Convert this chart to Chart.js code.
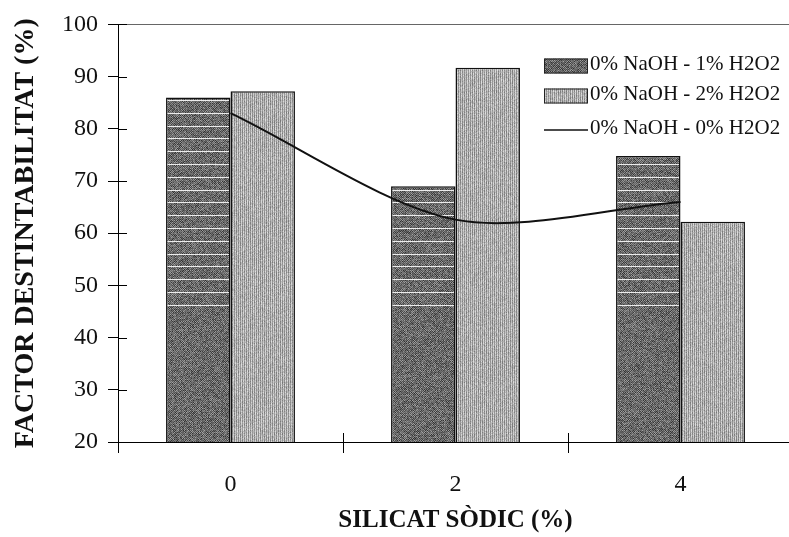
<!DOCTYPE html>
<html>
<head>
<meta charset="utf-8">
<script src="https://cdn.jsdelivr.net/npm/chart.js@4.4.1/dist/chart.umd.min.js"></script>
<style>
  html, body { margin: 0; padding: 0; background: #fff; overflow: hidden; }
  canvas { display: block; }
</style>
</head>
<body>
<canvas id="chart" width="800" height="537" style="width:800px;height:537px"></canvas>
<script>
// Silicat sòdic dose (%) on the x axis
const categories = ['0', '2', '4'];
const seriesNames = ['0% NaOH - 1% H2O2', '0% NaOH - 2% H2O2', '0% NaOH - 0% H2O2'];
// Factor de destintabilitat (%) per treatment
const peroxide1 = [86.0, 69.0, 74.8];
const peroxide2 = [87.2, 91.7, 62.2];
const peroxide0 = [83.0, 62.6, 66.0];
const yTickValues = [20, 30, 40, 50, 60, 70, 80, 90, 100];

const W = 800, H = 537;
const SERIF = '"Liberation Serif", "Times New Roman", serif';

// small deterministic hash for the print-like grain of the fills
function grain(x, y) {
  let h = (Math.imul(x, 374761393) + Math.imul(y, 668265263)) | 0;
  h = Math.imul(h ^ (h >>> 13), 1274126177);
  return ((h ^ (h >>> 16)) >>> 0) / 4294967295;
}

function makeTexture(painter) {
  const c = document.createElement('canvas');
  c.width = W; c.height = H;
  const g = c.getContext('2d');
  const img = g.createImageData(W, H);
  for (let y = 0; y < H; y++) {
    for (let x = 0; x < W; x++) {
      const v = Math.max(0, Math.min(255, painter(x, y)));
      const i = (y * W + x) * 4;
      img.data[i] = img.data[i + 1] = img.data[i + 2] = v;
      img.data[i + 3] = 255;
    }
  }
  g.putImageData(img, 0, 0);
  return g.createPattern(c, 'no-repeat');
}

// dark speckled fill with white bands in its upper part
const bandRows = new Set();
for (let k = 0; k <= 16; k++) bandRows.add(Math.round(100 + 12.8 * k));
const darkFill = makeTexture((x, y) => {
  if (bandRows.has(y)) return 236;
  const base = ((x + y) & 1) ? 80 : 130;
  return base + (grain(x, y) - 0.5) * 70;
});
// light fill with fine vertical hatching
const lightFill = makeTexture((x, y) => {
  const base = (x & 1) ? 202 : 142;
  return base + (grain(x, y) - 0.5) * 44;
});

// tick marks that cross the axis lines
const crossTicks = {
  id: 'crossTicks',
  afterDraw(chart) {
    const { ctx, scales: { x, y } } = chart;
    ctx.save();
    ctx.strokeStyle = '#000';
    ctx.lineWidth = 1;
    ctx.beginPath();
    y.ticks.forEach(t => {
      const py = Math.round(y.getPixelForValue(t.value)) + 0.5;
      ctx.moveTo(y.right, py);
      ctx.lineTo(y.right + 9, py);
    });
    const n = x.getLabels().length;
    for (let i = 1; i < n; i++) {
      const px = Math.round(x.left + i * x.width / n) + 0.5;
      ctx.moveTo(px, x.top);
      ctx.lineTo(px, x.top - 9);
    }
    ctx.stroke();
    ctx.restore();
  }
};

// legend in the upper right corner of the plot
const cornerLegend = {
  id: 'cornerLegend',
  afterDraw(chart) {
    const ctx = chart.ctx;
    const sets = chart.data.datasets;
    const rowY = [64, 94, 128];
    const boxX = 544, boxW = 44, boxH = 15, textX = 590;
    ctx.save();
    sets.forEach((ds, i) => {
      const cy = rowY[i];
      if (ds.type === 'line') {
        ctx.strokeStyle = ds.borderColor;
        ctx.lineWidth = 1.5;
        ctx.beginPath();
        ctx.moveTo(boxX, cy + 2);
        ctx.lineTo(boxX + boxW, cy + 2);
        ctx.stroke();
      } else {
        ctx.fillStyle = ds.backgroundColor;
        ctx.fillRect(boxX, cy - boxH / 2 + 2, boxW, boxH);
        ctx.strokeStyle = '#222';
        ctx.lineWidth = 1;
        ctx.strokeRect(boxX + 0.5, cy - boxH / 2 + 2.5, boxW - 1, boxH - 1);
      }
      ctx.fillStyle = '#111';
      ctx.font = '21px ' + SERIF;
      ctx.textBaseline = 'middle';
      ctx.textAlign = 'left';
      ctx.fillText(ds.label, textX, cy);
    });
    ctx.restore();
  }
};

new Chart(document.getElementById('chart'), {
  type: 'bar',
  data: {
    labels: categories,
    datasets: [
      {
        label: seriesNames[0],
        data: peroxide1,
        backgroundColor: darkFill,
        borderColor: '#111',
        borderWidth: 1.5,
        categoryPercentage: 0.573,
        barPercentage: 1.0,
        order: 1
      },
      {
        label: seriesNames[1],
        data: peroxide2,
        backgroundColor: lightFill,
        borderColor: '#111',
        borderWidth: 1.5,
        categoryPercentage: 0.573,
        barPercentage: 1.0,
        order: 1
      },
      {
        type: 'line',
        label: seriesNames[2],
        data: peroxide0,
        borderColor: '#111',
        borderWidth: 2,
        pointRadius: 0,
        tension: 0.3,
        fill: false,
        order: 0
      }
    ]
  },
  options: {
    responsive: false,
    animation: false,
    devicePixelRatio: 1,
    layout: { padding: { left: 0, top: 20, right: 7, bottom: 0 } },
    plugins: {
      legend: { display: false },
      tooltip: { enabled: false }
    },
    scales: {
      x: {
        offset: true,
        grid: {
          offset: true,
          drawOnChartArea: false,
          color: 'rgba(0,0,0,0)',
          tickColor: '#000',
          tickLength: 11,
          tickWidth: 1
        },
        border: { display: true, color: '#000', width: 1 },
        ticks: {
          color: '#111',
          padding: 17,
          font: { family: SERIF, size: 24 }
        },
        title: {
          display: true,
          text: 'SILICAT SÒDIC (%)',
          color: '#111',
          padding: { top: 0, bottom: 1 },
          font: { family: SERIF, size: 25, weight: 'bold' }
        },
        afterFit(scale) { scale.height = 95; }
      },
      y: {
        min: 20,
        max: 100,
        afterBuildTicks(scale) { scale.ticks = yTickValues.map(v => ({ value: v })); },
        grid: {
          drawOnChartArea: true,
          color: ctx => (ctx.tick && ctx.tick.value === 100) ? '#666' : 'rgba(0,0,0,0)',
          tickColor: '#000',
          tickLength: 10,
          tickWidth: 1
        },
        border: { display: true, color: '#000', width: 1 },
        ticks: {
          color: '#111',
          padding: 10,
          font: { family: SERIF, size: 24 }
        },
        title: {
          display: true,
          text: 'FACTOR DESTINTABILITAT (%)',
          color: '#111',
          padding: { top: 9, bottom: 0 },
          font: { family: SERIF, size: 28, weight: 'bold' }
        },
        afterFit(scale) { scale.width = 118; }
      }
    }
  },
  plugins: [crossTicks, cornerLegend]
});
</script>
</body>
</html>
